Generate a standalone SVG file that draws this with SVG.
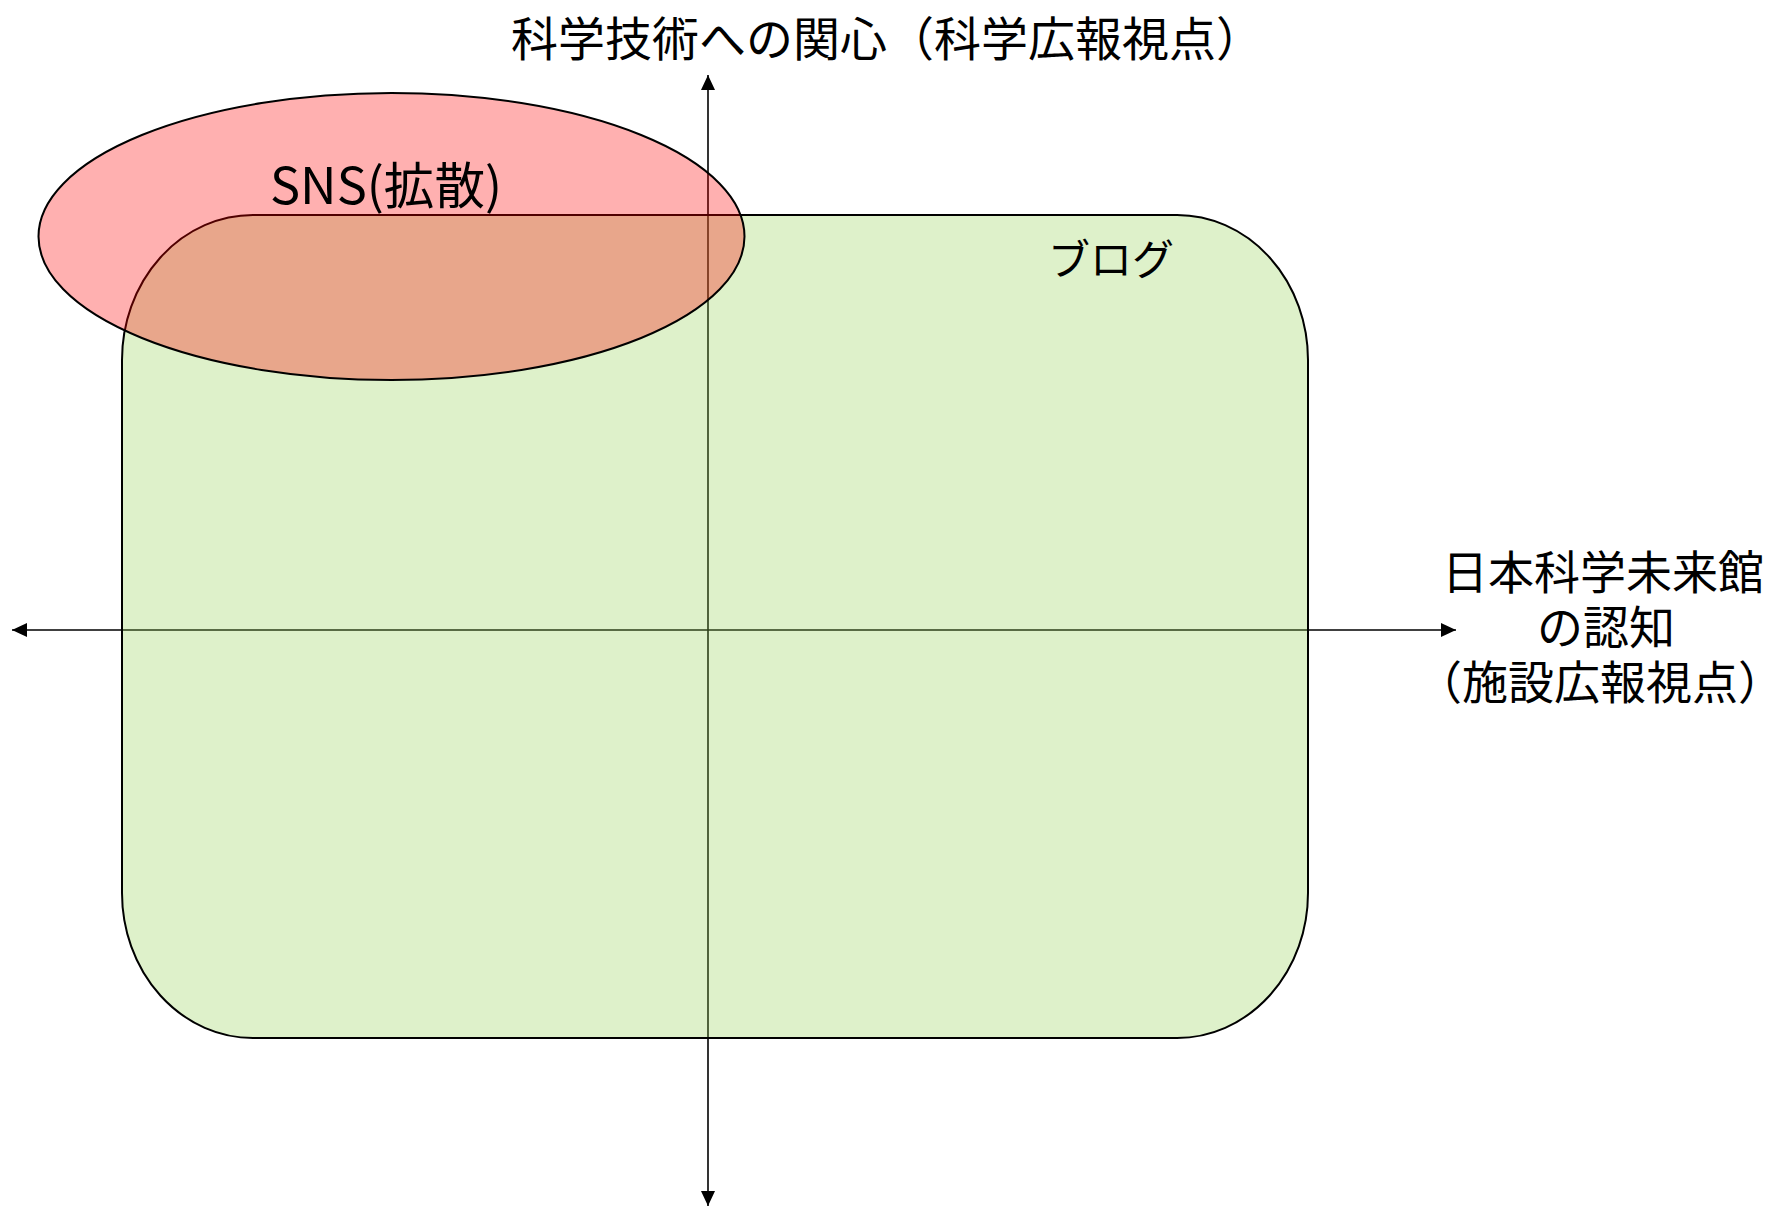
<svg xmlns="http://www.w3.org/2000/svg" width="1784" height="1206" viewBox="0 0 1784 1206">
  <style>
    .axis { stroke: #000; stroke-width: 1.6; fill: none; }
    .lbl { font-family: "Noto Sans CJK JP", "Noto Sans", sans-serif; fill: #000; }
  </style>
  <defs>
    <marker id="arrow" markerUnits="userSpaceOnUse" markerWidth="16" markerHeight="14" refX="15" refY="7" orient="auto">
      <path d="M0,0 L15,7 L0,14 Z" fill="#000"/>
    </marker>
  </defs>
  <rect width="1784" height="1206" fill="#fff"/>
  <g id="connectors">
    <line class="axis" x1="708" y1="630" x2="12" y2="630" marker-end="url(#arrow)"/>
    <line class="axis" x1="708" y1="630" x2="1456" y2="630" marker-end="url(#arrow)"/>
    <line class="axis" x1="708" y1="630" x2="708" y2="75" marker-end="url(#arrow)"/>
    <line class="axis" x1="708" y1="630" x2="708" y2="1206" marker-end="url(#arrow)"/>
  </g>
  <g id="blog">
    <rect x="122" y="215" width="1186" height="823" rx="131" ry="145" fill="#92D050" fill-opacity="0.3" stroke="#000" stroke-width="2"/>
    <text class="lbl" x="1111" y="275" font-size="42" text-anchor="middle">ブログ</text>
  </g>
  <g id="sns">
    <ellipse cx="391.5" cy="236.5" rx="353" ry="143.5" fill="#FF0000" fill-opacity="0.31" stroke="#000" stroke-width="2"/>
    <text class="lbl" x="270" y="204" font-size="50" textLength="232" lengthAdjust="spacingAndGlyphs">SNS(拡散)</text>
  </g>
  <g id="label-y">
    <text class="lbl" x="511" y="56" font-size="47">科学技術への関心（科学広報視点）</text>
  </g>
  <g id="label-x">
    <text class="lbl" font-size="46" text-anchor="middle"><tspan x="1603" y="589">日本科学未来館</tspan><tspan x="1606" y="644">の認知</tspan><tspan x="1600" y="699">（施設広報視点）</tspan></text>
  </g>
</svg>
